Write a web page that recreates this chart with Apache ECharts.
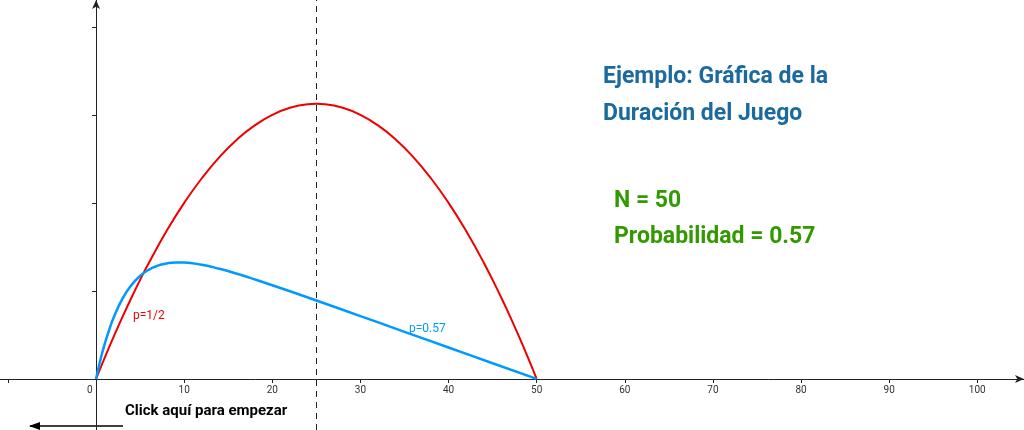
<!DOCTYPE html>
<html><head><meta charset="utf-8">
<script src="https://cdn.jsdelivr.net/npm/echarts@6/dist/echarts.min.js"></script>
<style>html,body{margin:0;padding:0;background:#fff}#c{width:1024px;height:430px}</style>
</head><body><div id="c"></div>
<script>
var redX = [0,1,2,3,4,5,6,8,10,12,14,16,18,20,22,24,25,26,28,30,32,34,36,38,40,42,44,46,47,48,49,50];
var redY = [0,49,96,141,184,225,264,336,400,456,504,544,576,600,616,624,625,624,616,600,576,544,504,456,400,336,264,184,141,96,49,0];
var blueX = [0,0.5,1,1.5,2,3,4,5,6,7,8,9,10,12,14,16,18,20,25,30,35,40,45,50];
var blueY = [0,44,80.6,112,139.6,182.4,212.9,234.2,248.5,257.5,262.5,264.6,264.4,259.3,250.2,238.9,226.3,213.0,178.3,142.8,107.1,71.4,35.7,0];
var xTicks = [0,10,20,30,40,50,60,70,80,90,100];
var yTicks = [200,400,600,800];
function pairs(a,b){return a.map(function(v,i){return [v,b[i]];});}
var ch = echarts.init(document.getElementById('c'));
var lab = {fontSize:10,color:'#333',fontFamily:'Roboto'};
ch.setOption({
  animation:false,
  grid:[{left:0,right:0,top:0,bottom:0,containLabel:false,outerBoundsMode:'none'},
        {left:0,right:0,top:0,bottom:51,containLabel:false,outerBoundsMode:'none'}],
  xAxis:[{type:'value',gridIndex:0,min:-10.9,max:105.3,
    axisLine:{onZero:true,symbol:['none','arrow'],symbolSize:[6,9],lineStyle:{color:'#222'}},
    axisTick:{show:false},axisLabel:{show:false},splitLine:{show:false}},
   {type:'value',gridIndex:1,min:-10.9,max:105.3,position:'bottom',
    axisLine:{show:false},
    axisTick:{customValues:xTicks.concat([-10]),length:4,lineStyle:{color:'#222'}},
    axisLabel:Object.assign({customValues:xTicks,margin:6,formatter:function(v){return v===0?'0     ':v;}},lab),
    splitLine:{show:false}}],
  yAxis:[{type:'value',gridIndex:0,min:-116,max:861,
    axisLine:{onZero:true,symbol:['none','arrow'],symbolSize:[6,9],lineStyle:{color:'#222'}},
    axisTick:{customValues:yTicks,length:4,lineStyle:{color:'#222'}},
    axisLabel:Object.assign({customValues:yTicks,margin:6},lab),
    splitLine:{show:false}},
   {type:'value',gridIndex:1,min:0,max:800,show:false}],
  series:[
    {type:'line',xAxisIndex:0,yAxisIndex:0,data:pairs(redX,redY),smooth:true,showSymbol:false,lineStyle:{color:'#ee0000',width:2},
     markLine:{silent:true,symbol:'none',label:{show:false},lineStyle:{color:'#222',type:[6,5],width:1},data:[[{coord:[25,-116]},{coord:[25,861]}]]}},
    {type:'line',xAxisIndex:0,yAxisIndex:0,data:pairs(blueX,blueY),smooth:true,showSymbol:false,lineStyle:{color:'#0099ff',width:2.5}}
  ],
  graphic:[
    {type:'text',left:133,top:310,style:{text:'p=1/2',fill:'#ee0000',fontSize:12,fontFamily:'Roboto'}},
    {type:'text',left:409,top:323,style:{text:'p=0.57',fill:'#0099ff',fontSize:12,fontFamily:'Roboto'}},
    {type:'text',left:603,top:66,style:{text:'Ejemplo: Gráfica de la',fill:'#1a6aa0',fontSize:23,fontWeight:'bold',fontFamily:'Roboto'}},
    {type:'text',left:603,top:103,style:{text:'Duración del Juego',fill:'#1a6aa0',fontSize:23,fontWeight:'bold',fontFamily:'Roboto'}},
    {type:'text',left:614,top:190,style:{text:'N = 50',fill:'#339900',fontSize:23,fontWeight:'bold',fontFamily:'Roboto'}},
    {type:'text',left:614,top:226,style:{text:'Probabilidad = 0.57',fill:'#339900',fontSize:23,fontWeight:'bold',fontFamily:'Roboto'}},
    {type:'text',left:125,top:404,style:{text:'Click aquí para empezar',fill:'#000',fontSize:15,fontWeight:'bold',fontFamily:'Roboto'}},
    {type:'line',shape:{x1:30,y1:426,x2:123,y2:426},style:{stroke:'#000',lineWidth:1.5}},
    {type:'polygon',shape:{points:[[29,426],[40,422],[40,430]]},style:{fill:'#000'}}
  ]
});
</script></body></html>
